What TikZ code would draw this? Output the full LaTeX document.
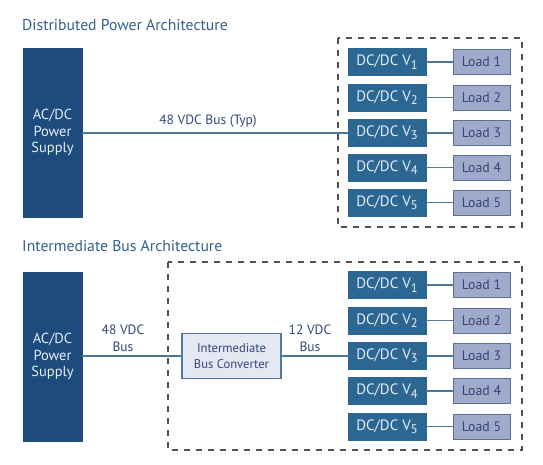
\documentclass[tikz,border=0pt]{standalone}
\usepackage{fontspec}
\setmainfont{PT Sans}
\definecolor{acdc}{HTML}{1D4B7B}
\definecolor{dcdc}{HTML}{2C6693}
\definecolor{loadfill}{HTML}{A0AACB}
\definecolor{loaddraw}{HTML}{5C6F9C}
\definecolor{loadtext}{HTML}{34477A}
\definecolor{ibcfill}{HTML}{E3E8F2}
\definecolor{ibcdraw}{HTML}{4F7AA3}
\definecolor{titlec}{HTML}{33608C}
\definecolor{wirec}{HTML}{4F7799}
\definecolor{dashc}{HTML}{505050}
\definecolor{boxtext}{HTML}{E6EEF6}
\newcommand\vsub[1]{\raisebox{-0.45ex}{\fontsize{12.5}{12.5}\selectfont #1}}
\tikzset{
  title/.style={anchor=west,text=titlec,font=\fontsize{15.7}{17}\selectfont,inner sep=0},
  acdcbox/.style={fill=acdc,draw=acdc,text=boxtext,minimum width=59pt,minimum height=169pt,inner sep=0,align=center,font=\fontsize{14.5}{16.8}\selectfont},
  dcbox/.style={fill=dcdc,draw=dcdc,text=boxtext,minimum width=78pt,minimum height=27pt,inner sep=0,font=\fontsize{15}{16}\selectfont},
  loadbox/.style={fill=loadfill,draw=loaddraw,line width=1pt,text=loadtext,minimum width=57pt,minimum height=25pt,inner sep=0,font=\fontsize{13.8}{15}\selectfont},
  ibcbox/.style={fill=ibcfill,draw=ibcdraw,line width=1.2pt,text=loadtext,minimum width=99pt,minimum height=45pt,inner sep=0,align=center,font=\fontsize{12.6}{16}\selectfont},
  wire/.style={draw=wirec,line width=1.1pt},
  dashbox/.style={draw=dashc,line width=1.1pt,dash pattern=on 6pt off 6pt},
  lbl/.style={text=loadtext,inner sep=0,align=center,font=\fontsize{13.5}{17}\selectfont},
}
\begin{document}
\begin{tikzpicture}[x=1pt,y=-1pt]
\useasboundingbox[fill=white] (0,0) rectangle (543,464);
% ---------- Distributed ----------
\node[title] (t1) at (22,25) {Distributed Power Architecture};
\draw[dashbox] (338,38) rectangle (522,227);
\node[acdcbox] (ac1) at (52.5,132.5) {AC/DC\\Power\\Supply};
\foreach \i/\y in {1/62,2/97.5,3/133,4/167.5,5/202.5}{
  \node[dcbox] (d1\i) at (387,\y) {DC/DC V\vsub{\i}};
  \node[loadbox] (l1\i) at (481.5,\y) {Load \i};
  \draw[wire] (d1\i.east) -- (l1\i.west);
}
\draw[wire] (ac1.east |- d13.west) -- (d13.west);
\node[lbl] (b1) at (208,121) {48 VDC Bus (Typ)};
% ---------- Intermediate ----------
\node[title] (t2) at (22,246) {Intermediate Bus Architecture};
\draw[dashbox] (168,262) rectangle (522,450);
\node[acdcbox] (ac2) at (52.5,356.5) {AC/DC\\Power\\Supply};
\foreach \i/\y in {1/285,2/320.5,3/356,4/391,5/426.5}{
  \node[dcbox] (d2\i) at (387,\y) {DC/DC V\vsub{\i}};
  \node[loadbox] (l2\i) at (481.5,\y) {Load \i};
  \draw[wire] (d2\i.east) -- (l2\i.west);
}
\node[ibcbox] (ibc) at (231.5,356) {Intermediate\\Bus Converter};
\draw[wire] (ac2.east |- ibc.west) -- (ibc.west);
\draw[wire] (ibc.east) -- (d23.west);
\node[lbl] (b2) at (123,338.5) {48 VDC\\Bus};
\node[lbl] (b3) at (310,338.5) {12 VDC\\Bus};
\end{tikzpicture}
\end{document}
